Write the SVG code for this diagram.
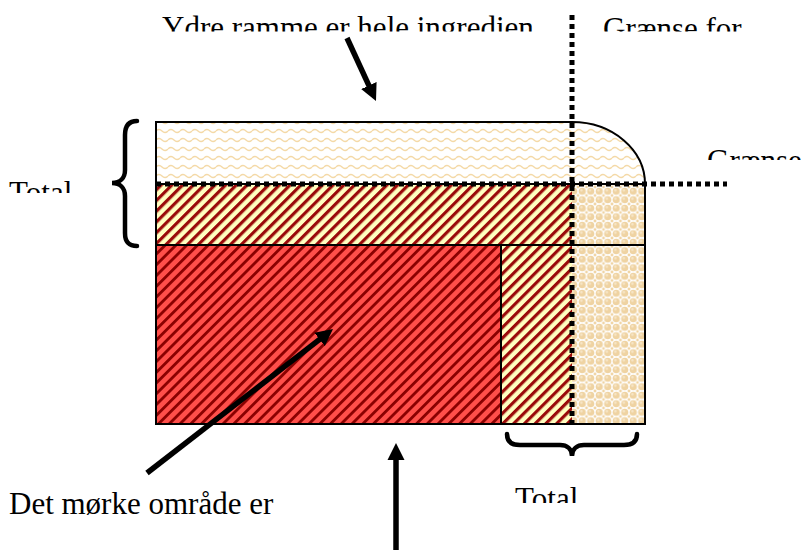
<svg xmlns="http://www.w3.org/2000/svg" width="802" height="550" viewBox="0 0 802 550">
<style>
.t{font-family:'Liberation Serif','Times New Roman',Times,serif;font-size:31px;fill:#000}
.b{fill:none;stroke:#000;stroke-width:2}
.d{fill:none;stroke:#000;stroke-width:5;stroke-dasharray:5 4}
.ar{fill:none;stroke:#000;stroke-width:5.5}
.br{fill:none;stroke:#000;stroke-width:4.5;stroke-linecap:round}
</style>
<defs>
<pattern id="wave" patternUnits="userSpaceOnUse" width="12" height="9">
<rect width="12" height="9" fill="#fff"/>
<path d="M0,5 Q3,2 6,5 T12,5" fill="none" stroke="#f4d9a6" stroke-width="1.3"/>
</pattern>
<pattern id="hatchY" patternUnits="userSpaceOnUse" width="7.6" height="10" patternTransform="rotate(45)">
<rect width="7.6" height="10" fill="#ffffc0"/>
<rect x="0" width="3.2" height="10" fill="#9a0a0a"/>
</pattern>
<pattern id="hatchR" patternUnits="userSpaceOnUse" width="7.6" height="10" patternTransform="rotate(45)">
<rect width="7.6" height="10" fill="#ff4f4a"/>
<rect x="0" width="2.8" height="10" fill="#8a0000"/>
</pattern>
<pattern id="dots" patternUnits="userSpaceOnUse" width="8.5" height="8.5">
<rect width="8.5" height="8.5" fill="#fff"/>
<circle cx="4.25" cy="4.25" r="3.6" fill="#efd3a2"/>
<circle cx="3.4" cy="3.2" r="1.2" fill="#f7e6c8"/>
<circle cx="0" cy="0" r="1.4" fill="#efd3a2"/>
<circle cx="8.5" cy="0" r="1.4" fill="#efd3a2"/>
<circle cx="0" cy="8.5" r="1.4" fill="#efd3a2"/>
<circle cx="8.5" cy="8.5" r="1.4" fill="#efd3a2"/>
</pattern>
<marker id="ah" markerUnits="userSpaceOnUse" markerWidth="18" markerHeight="18" refX="7" refY="8.5" orient="auto" viewBox="0 0 18 17">
<path d="M0,0 L17,8.5 L0,17 Z" fill="#000"/>
</marker>
<clipPath id="c1"><rect x="0" y="0" width="802" height="31.5"/></clipPath>
<clipPath id="c2"><rect x="0" y="0" width="802" height="160"/></clipPath>
<clipPath id="c3"><rect x="0" y="0" width="802" height="193"/></clipPath>
<clipPath id="c4"><rect x="0" y="0" width="802" height="503"/></clipPath>
</defs>

<g id="outer-frame">
<path d="M156,122 H572 A73,62 0 0 1 645,184 V424 H156 Z" fill="url(#wave)"/>
</g>
<g id="hatched-band">
<rect x="156" y="184" width="416" height="61" fill="url(#hatchY)"/>
</g>
<g id="dark-area">
<rect x="156" y="245" width="345" height="179" fill="url(#hatchR)"/>
</g>
<g id="hatched-column">
<rect x="501" y="245" width="71" height="179" fill="url(#hatchY)"/>
</g>
<g id="dotted-column">
<rect x="572" y="184" width="73" height="240" fill="url(#dots)"/>
</g>
<g id="borders">
<path class="b" d="M156,122 H572 A73,62 0 0 1 645,184 V424 H156 Z"/>
<path class="b" d="M156,184 H645 M156,245 H645 M501,245 V424"/>
</g>

<g id="connectors">
<line class="d" x1="572" y1="15" x2="572" y2="424"/>
<line class="d" x1="156" y1="184" x2="727" y2="184"/>
<line class="ar" x1="347" y1="38" x2="371.8" y2="91.9" marker-end="url(#ah)"/>
<line class="ar" x1="147" y1="473" x2="325.1" y2="335.1" marker-end="url(#ah)"/>
<line class="ar" x1="396" y1="550" x2="396" y2="453" marker-end="url(#ah)"/>
<path id="brace-left" class="br" d="M137,121 C128,121 125,127 125,135 V170 C125,178 120,183 112,183 C120,183 125,188 125,196 V233 C125,241 128,246 137,246"/>
<path id="brace-bottom" class="br" d="M507,434 C507,442 512,445 520,445 H560 C567,445 572,449 572,456 C572,449 577,445 584,445 H624 C632,445 637,442 637,434"/>
</g>

<g id="labels">
<text class="t" x="162" y="37.5" clip-path="url(#c1)">Ydre ramme er hele ingredien</text>
<text class="t" x="603" y="38.5" clip-path="url(#c1)">Grænse for</text>
<text class="t" x="707" y="170.5" clip-path="url(#c2)">Grænse</text>
<text class="t" x="9" y="202.5" clip-path="url(#c3)">Total</text>
<text class="t" x="515" y="508.5" clip-path="url(#c4)">Total</text>
<text class="t" x="9" y="514">Det mørke område er</text>
</g>
</svg>
